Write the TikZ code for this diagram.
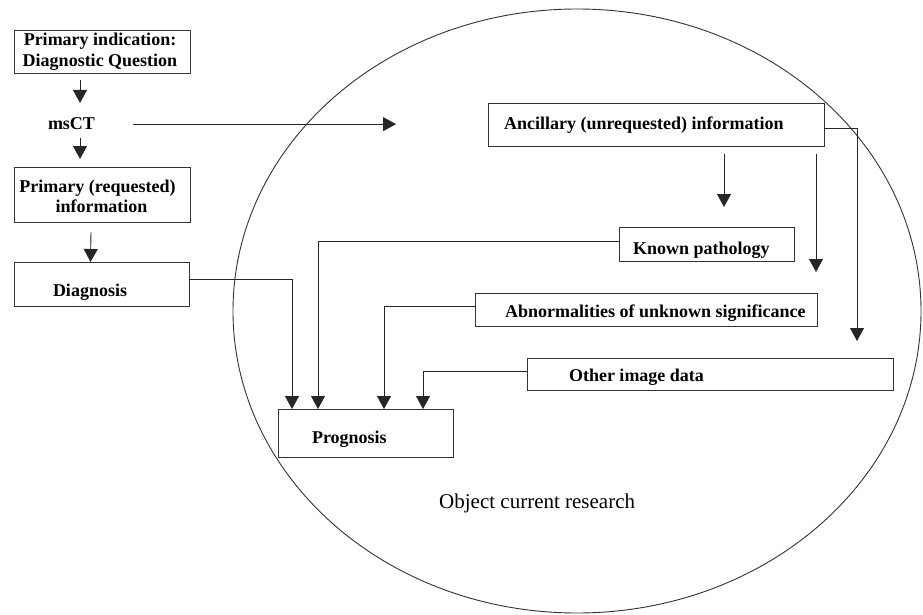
\documentclass[tikz,border=0pt]{standalone}
\usepackage{fontspec}
\setmainfont{Liberation Serif}
\usetikzlibrary{arrows.meta,shapes.geometric}
\tikzset{
  box/.style={draw=black!80, line width=0.9pt, inner sep=0pt, outer sep=0pt},
  lbl/.style={inner sep=0pt, outer sep=0pt, font=\bfseries\fontsize{18}{21}\selectfont},
  arr/.style={draw=black!85, line width=0.9pt, -{Triangle[width=14pt,length=13pt]}},
}
\begin{document}
\begin{tikzpicture}[x=1pt,y=-1pt]
\useasboundingbox (0,0) rectangle (923,615);
% research ellipse
\node[draw=black!80, line width=0.9pt, ellipse, inner sep=0pt, minimum width=688pt, minimum height=604pt] (circ) at (577,311) {};
% boxes
\node[box, minimum width=176pt, minimum height=43pt] (pi) at (102,51.5) {};
\node[box, minimum width=176pt, minimum height=55pt] (pr) at (102,194.5) {};
\node[box, minimum width=175pt, minimum height=44pt] (dg) at (101.5,284) {};
\node[box, minimum width=175pt, minimum height=48pt] (pg) at (365.5,433) {};
\node[box, minimum width=336pt, minimum height=43pt] (an) at (656,124.5) {};
\node[box, minimum width=175pt, minimum height=34pt] (kp) at (706.5,244) {};
\node[box, minimum width=342pt, minimum height=33pt] (ab) at (646,309.5) {};
\node[box, minimum width=366pt, minimum height=32pt] (oi) at (710,374) {};
% texts
\node[lbl, align=center] (pit) at (100,52) {Primary indication:\\Diagnostic Question};
\node[lbl, anchor=base west] (msct) at (48,130) {msCT};
\node[lbl, align=center, font=\bfseries\fontsize{18}{20}\selectfont] (prt) at (97.5,196) {Primary (requested)\\\hspace*{8pt}information};
\node[lbl, anchor=base west] (dgt) at (53,296) {Diagnosis};
\node[lbl, anchor=base west] (pgt) at (312,443) {Prognosis};
\node[lbl, anchor=base west] (ant) at (504,129) {Ancillary (unrequested) information};
\node[lbl, anchor=base west] (kpt) at (633,254) {Known pathology};
\node[lbl, anchor=base west] (abt) at (505,317) {Abnormalities of unknown significance};
\node[lbl, anchor=base west] (oit) at (569,381) {Other image data};
\node[inner sep=0pt, anchor=base west, font=\fontsize{21}{24}\selectfont] (ocr) at (439,508) {Object current research};
% left column
\draw[arr] ([xshift=-22pt,yshift=-7pt]pi.south) -- ++(0,23);
\draw[arr] ([xshift=-22pt]pr.north) ++(0,-29) -- ++(0,21);
\draw[arr] ([xshift=-11pt,yshift=-10pt]pr.south) -- ([xshift=-11pt]dg.north);
\draw[arr] ([xshift=38pt]msct.east) -- ++(263,0);
% into prognosis
\draw[arr] ([yshift=5pt]dg.east) -| ([xshift=14pt]pg.north west);
\draw[arr] ([yshift=3pt]kp.west) -| ([xshift=40pt]pg.north west);
\draw[arr] ([yshift=3.5pt]ab.west) -| ([xshift=106pt]pg.north west);
\draw[arr] ([yshift=3pt]oi.west) -| ([xshift=145pt]pg.north west);
% from ancillary
\draw[arr] ([xshift=68pt,yshift=-8pt]an.south) -- ++(0,53);
\draw[arr] ([xshift=160pt,yshift=-8pt]an.south) -- ++(0,118);
\draw[arr] ([yshift=-3.5pt]an.east) -| ++(33,213);
\end{tikzpicture}
\end{document}
